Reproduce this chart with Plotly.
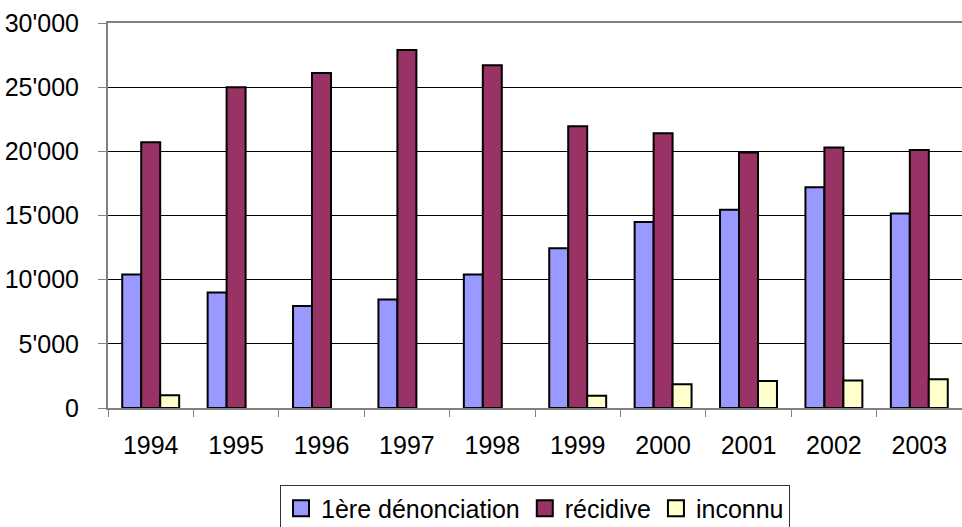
import plotly.graph_objects as go

years = ["1994", "1995", "1996", "1997", "1998",
         "1999", "2000", "2001", "2002", "2003"]
premiere = [10400, 9000, 7950, 8450, 10400, 12450, 14500, 15450, 17200, 15150]
recidive = [20700, 25000, 26100, 27900, 26700, 21950, 21400, 19900, 20300, 20100]
inconnu = [1000, None, None, None, None, 950, 1850, 2100, 2150, 2250]

series = [("1ère dénonciation", premiere, "#9999FF"),
          ("récidive", recidive, "#993366"),
          ("inconnu", inconnu, "#FFFFCC")]

fig = go.Figure()
for name, vals, col in series:
    fig.add_trace(go.Bar(x=years, y=vals, name=name, showlegend=False,
                         marker={"color": col,
                                 "line": {"color": "black", "width": 2}}))
# entrées de légende (carrés plus grands que l'icône par défaut)
for name, vals, col in series:
    fig.add_trace(go.Scatter(x=[None], y=[None], mode="markers", name=name,
                             marker={"symbol": "square", "size": 16, "color": col,
                                     "line": {"color": "black", "width": 2}}))

font = {"family": "Liberation Sans, Arial, sans-serif", "size": 25, "color": "black"}

fig.update_layout(
    width=962, height=527,
    margin={"l": 108, "r": 0, "t": 23, "b": 119, "autoexpand": False},
    paper_bgcolor="white", plot_bgcolor="white",
    font=font,
    separators=".'",
    barmode="group", bargap=1/3, bargroupgap=0,
    legend={"orientation": "h", "x": 0.5, "xanchor": "center",
            "y": -0.199, "yanchor": "top",
            "bordercolor": "#333333", "borderwidth": 1,
            "font": font, "itemwidth": 30},
)
fig.update_xaxes(type="category", tickson="boundaries", ticks="outside",
                 ticklen=7, tickcolor="#808080", tickwidth=1,
                 showline=True, linecolor="#808080", linewidth=2, mirror=True,
                 showgrid=False, ticklabelstandoff=14, automargin=False)
fig.update_yaxes(range=[0, 30000], dtick=5000, tickformat=",",
                 ticks="outside", ticklen=8, tickcolor="#808080",
                 showline=True, linecolor="#808080", linewidth=2,
                 showgrid=True, gridcolor="black", gridwidth=1,
                 zeroline=False, ticklabelstandoff=14, automargin=False)

# pas de marge autour de la page, pas de barre d'outils
fig.write_html("out.html", config={"displayModeBar": False},
               post_script="document.body.style.margin='0';")
